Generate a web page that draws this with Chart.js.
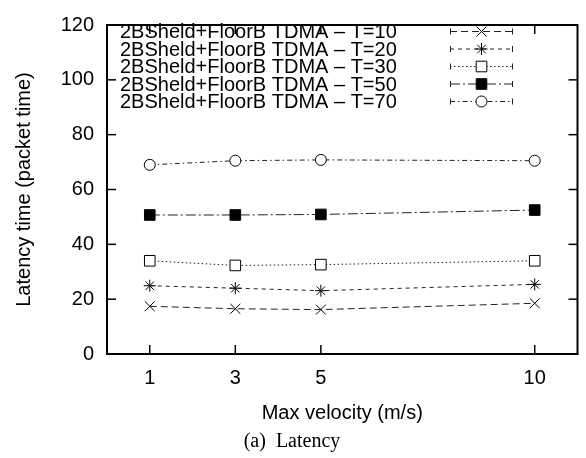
<!DOCTYPE html>
<html>
<head>
<meta charset="utf-8">
<script src="https://cdn.jsdelivr.net/npm/chart.js@4.4.1/dist/chart.umd.min.js"></script>
<style>
html,body{margin:0;padding:0;background:#fff;}
#wrap{width:586px;height:458px;position:relative;}
</style>
</head>
<body>
<div id="wrap"><canvas id="c" width="586" height="458"></canvas></div>
<script>
const velocities = [1, 3, 5, 10];
const xTicks = [1, 3, 5, 10];
const yTicks = [0, 20, 40, 60, 80, 100, 120];
const seriesLabels = [
  "2BSheld+FloorB TDMA \u2013 T=10",
  "2BSheld+FloorB TDMA \u2013 T=20",
  "2BSheld+FloorB TDMA \u2013 T=30",
  "2BSheld+FloorB TDMA \u2013 T=50",
  "2BSheld+FloorB TDMA \u2013 T=70"
];
const latT10 = [17.4, 16.5, 16.2, 18.5];
const latT20 = [24.9, 24.0, 23.1, 25.4];
const latT30 = [34.0, 32.3, 32.6, 34.0];
const latT50 = [50.7, 50.7, 50.9, 52.5];
const latT70 = [69.0, 70.5, 70.8, 70.5];

const SANS = "'Liberation Sans', Arial, Helvetica, sans-serif";
const SERIF = "'Liberation Serif', 'Times New Roman', serif";
const INK = '#000';
const LINE = '#222';

function pts(vals){ return velocities.map((v,i)=>({x:v, y:vals[i]})); }

const styles = [
  {dash:[7,4], ps:'crossRot', r:7, fill:'rgba(0,0,0,0)'},
  {dash:[4,4], ps:'star', r:6, fill:'rgba(0,0,0,0)'},
  {dash:[1.5,2.5], ps:'rect', r:7.5, fill:'#fff'},
  {dash:[10,3,2,3], ps:'rect', r:7.5, fill:'#000'},
  {dash:[5,3,1.5,3], ps:'circle', r:5.5, fill:'#fff'}
];
const allVals = [latT10, latT20, latT30, latT50, latT70];

const datasets = allVals.map((vals,i)=>({
  label: seriesLabels[i],
  data: pts(vals),
  borderColor: LINE,
  borderWidth: 1,
  borderDash: styles[i].dash,
  pointStyle: styles[i].ps,
  pointRadius: styles[i].r,
  pointBorderColor: INK,
  pointBorderWidth: 1,
  pointBackgroundColor: styles[i].fill,
  fill: false,
  tension: 0
}));

const frameAndTicks = {
  id: 'frameAndTicks',
  afterDatasetsDraw(chart){
    const {ctx, chartArea:a, scales} = chart;
    ctx.save();
    ctx.strokeStyle = INK;
    ctx.setLineDash([]);
    ctx.lineWidth = 1.5;
    const tl = 9;
    scales.y.ticks.forEach(t=>{
      const y = scales.y.getPixelForValue(t.value);
      if (t.value === 0 || t.value === 120) return;
      ctx.beginPath(); ctx.moveTo(a.left, y); ctx.lineTo(a.left+tl, y); ctx.stroke();
      ctx.beginPath(); ctx.moveTo(a.right, y); ctx.lineTo(a.right-tl, y); ctx.stroke();
    });
    scales.x.ticks.forEach(t=>{
      const x = scales.x.getPixelForValue(t.value);
      ctx.beginPath(); ctx.moveTo(x, a.bottom); ctx.lineTo(x, a.bottom-tl); ctx.stroke();
      ctx.beginPath(); ctx.moveTo(x, a.top); ctx.lineTo(x, a.top+tl); ctx.stroke();
    });
    ctx.lineWidth = 2;
    ctx.strokeRect(a.left, a.top, a.right-a.left, a.bottom-a.top);
    ctx.restore();
  }
};

const keyPlugin = {
  id: 'gnuKey',
  afterDatasetsDraw(chart){
    const {ctx} = chart;
    const textX = 120, y0 = 31.5, dy = 17.5, sx0 = 450, sx1 = 513;
    ctx.save();
    chart.data.datasets.forEach((ds,i)=>{
      const y = y0 + i*dy;
      ctx.font = "20px " + SANS;
      ctx.fillStyle = INK;
      ctx.textAlign = 'left';
      ctx.textBaseline = 'middle';
      ctx.fillText(ds.label, textX, y+1);
      ctx.strokeStyle = LINE;
      ctx.lineWidth = 1;
      ctx.setLineDash(ds.borderDash);
      ctx.beginPath(); ctx.moveTo(sx0, y); ctx.lineTo(sx1, y); ctx.stroke();
      ctx.setLineDash([]);
      ctx.beginPath();
      ctx.moveTo(sx0+0.5, y-3); ctx.lineTo(sx0+0.5, y+3);
      ctx.moveTo(sx1-0.5, y-3); ctx.lineTo(sx1-0.5, y+3);
      ctx.stroke();
      ctx.strokeStyle = INK;
      ctx.fillStyle = ds.pointBackgroundColor;
      ctx.lineWidth = 1;
      Chart.helpers.drawPoint(ctx, {pointStyle: ds.pointStyle, radius: ds.pointRadius, borderWidth: 1, rotation: 0}, (sx0+sx1)/2, y);
    });
    ctx.restore();
  }
};

new Chart(document.getElementById('c'), {
  type: 'line',
  data: { datasets },
  options: {
    responsive: false,
    animation: false,
    devicePixelRatio: 1,
    layout: { padding: { left: 0, right: 2, top: 10, bottom: 0 } },
    plugins: {
      legend: { display: false },
      tooltip: { enabled: false },
      title: {
        display: true,
        position: 'bottom',
        text: '(a)  Latency',
        color: INK,
        font: { family: SERIF, size: 20, weight: 'normal', lineHeight: 1 },
        padding: { top: 0, bottom: 6 }
      }
    },
    scales: {
      x: {
        type: 'linear',
        min: 0, max: 11,
        afterBuildTicks(scale){ scale.ticks = xTicks.map(v=>({value:v})); },
        afterFit(scale){ scale.height = 78; },
        grid: { display: false, drawTicks: false },
        border: { display: false },
        ticks: { color: INK, font: { family: SANS, size: 20 }, padding: 12, maxRotation: 0,
          callback: (v)=> String(v) },
        title: { display: true, text: 'Max velocity (m/s)', color: INK,
          font: { family: SANS, size: 20, lineHeight: 1.2 }, padding: { top: 0, bottom: 7 } }
      },
      y: {
        min: 0, max: 120,
        afterBuildTicks(scale){ scale.ticks = yTicks.map(v=>({value:v})); },
        afterFit(scale){ scale.width = 107; },
        grid: { display: false, drawTicks: false },
        border: { display: false },
        ticks: { color: INK, font: { family: SANS, size: 20 }, padding: 13,
          callback: (v)=> String(v) },
        title: { display: true, text: 'Latency time (packet time)', color: INK,
          font: { family: SANS, size: 20, lineHeight: 1.2 }, padding: { top: 12, bottom: 0 } }
      }
    }
  },
  plugins: [frameAndTicks, keyPlugin]
});
</script>
</body>
</html>
